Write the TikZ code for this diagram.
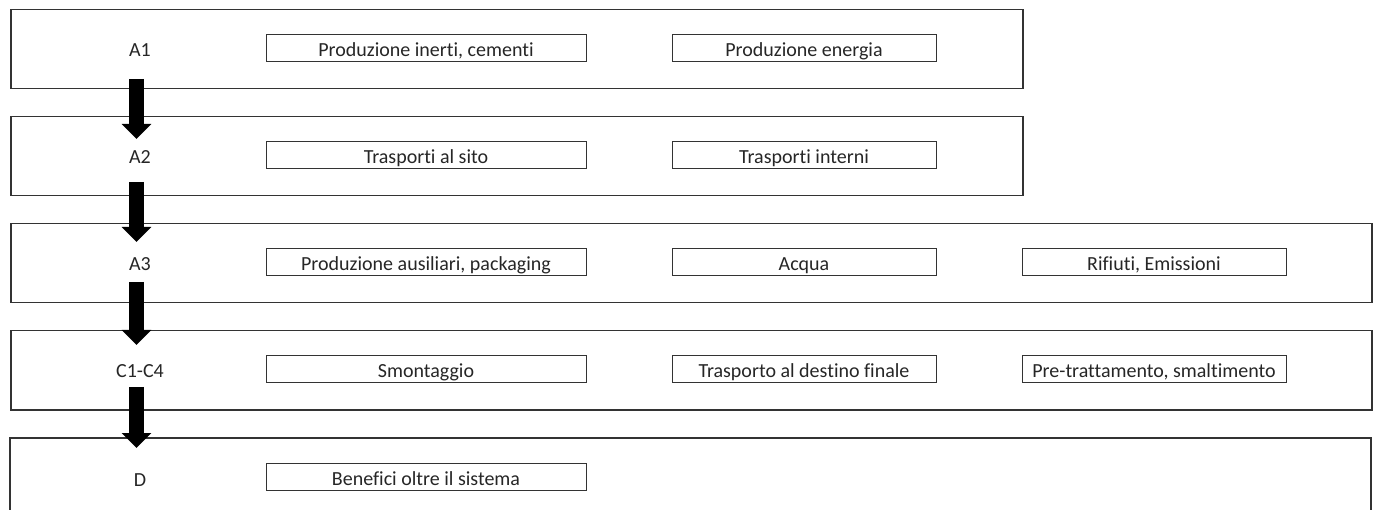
\documentclass[tikz,border=0pt]{standalone}
\usepackage{fontspec}
\setmainfont[RawFeature=-liga]{Carlito}
\usetikzlibrary{arrows.meta}
\tikzset{
  stage/.style={draw=black!80, line width=1.5pt, minimum width=1012pt, minimum height=79pt, inner sep=0pt, anchor=north west},
  stagewide/.style={stage, minimum width=1361pt},
  item/.style={draw=black!80, line width=1pt, minimum width=320pt, minimum height=27pt, inner sep=0pt, font=\fontsize{20}{22}\selectfont, text=black!85, text height=16.5pt, text depth=0pt},
  item2/.style={item, minimum width=264pt},
  lab/.style={font=\fontsize{20}{22}\selectfont, text=black!85, text height=16.5pt, text depth=0pt, inner sep=0pt},
  flow/.style={line width=15pt, black, -{Triangle[width=29pt,length=15pt]}}
}
\begin{document}
\begin{tikzpicture}[x=1pt,y=-1pt]
\useasboundingbox (0,0) rectangle (1376,510);
% stage boxes
\node[stage] (A1) at (10,9) {};
\node[stage] (A2) at (10,116) {};
\node[stagewide] (A3) at (10,223) {};
\node[stagewide] (C) at (10,330) {};
\draw[draw=black!80, line width=1.5pt] (10,520) -- (10,438) coordinate (Dtl) -- (1371,438) coordinate (Dtr) -- (1371,520);
% labels
\node[lab] (lA1) at (140,48.5) {A1};
\node[lab] (lA2) at (140,155.5) {A2};
\node[lab] (lA3) at (140,262.5) {A3};
\node[lab] (lC) at (140,369.5) {C1-C4};
\node[lab] (lD) at (140,478) {D};
% items
\node[item] (p1) at (426,48.5) {Produzione inerti, cementi};
\node[item2] (p2) at (804,48.5) {Produzione energia};
\node[item] (t1) at (426,155.5) {Trasporti al sito};
\node[item2] (t2) at (804,155.5) {Trasporti interni};
\node[item] (a1) at (426,262.5) {Produzione ausiliari, packaging};
\node[item2] (a2) at (804,262.5) {Acqua};
\node[item2] (a3) at (1154,262.5) {Rifiuti, Emissioni};
\node[item] (c1) at (426,369.5) {Smontaggio};
\node[item2] (c2) at (804,369.5) {Trasporto al destino finale};
\node[item2] (c3) at (1154,369.5) {Pre-trattamento, smaltimento};
\node[item] (d1) at (426,477) {Benefici oltre il sistema};
% arrows
\coordinate (s1) at (136.5,79);  \coordinate (e1) at (136.5,139);
\coordinate (s2) at (136.5,182); \coordinate (e2) at (136.5,242);
\coordinate (s3) at (136.5,282); \coordinate (e3) at (136.5,345);
\coordinate (s4) at (136.5,387); \coordinate (e4) at (136.5,448);
\draw[flow] (s1) -- (e1);
\draw[flow] (s2) -- (e2);
\draw[flow] (s3) -- (e3);
\draw[flow] (s4) -- (e4);
\end{tikzpicture}
\end{document}
